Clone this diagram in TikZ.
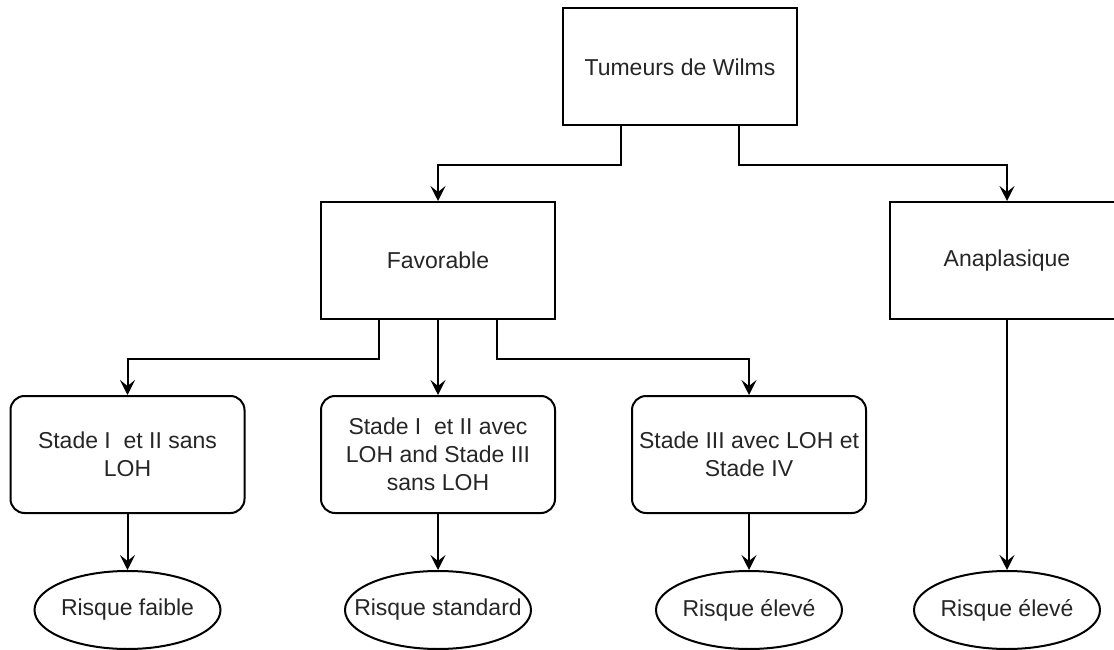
\documentclass[tikz,border=0pt]{standalone}
\usepackage{fontspec}
\setmainfont{Liberation Sans}
\usetikzlibrary{shapes.geometric,arrows.meta,calc}
\begin{document}
\begin{tikzpicture}[x=1pt,y=-1pt,
  every node/.style={font=\fontsize{23}{28}\selectfont, text=black!85, align=center, inner sep=0pt},
  sqbox/.style={draw, line width=2pt, fill=white, minimum width=234pt, minimum height=117pt},
  rbox/.style={sqbox, rounded corners=14pt},
  risk/.style={draw, ellipse, line width=2pt, fill=white, minimum width=186pt, minimum height=78pt},
  arr/.style={line width=2pt, -{Stealth[length=15pt,width=15pt,inset=6pt]}}
]
\fill[white] (0,0) rectangle (1114,650);
\useasboundingbox (0,0) rectangle (1114,650);

\node[sqbox] (top) at (680,67) {Tumeurs de Wilms};
\node[sqbox] (fav) at (438,260.5) {Favorable};
\node[sqbox] (ana) at (1007,260.5) {Anaplasique};

\node[rbox] (s1) at (127.5,454.5) {Stade I\ \ et II sans\\LOH};
\node[rbox] (s2) at (438,454.5) {Stade I\ \ et II avec\\LOH and Stade III\\sans LOH};
\node[rbox] (s3) at (749,454.5) {Stade III avec LOH et\\Stade IV};

\node[risk] (r1) at (127.5,610) {\makebox[0pt]{Risque faible}};
\node[risk] (r2) at (438,610) {\makebox[0pt]{Risque standard}};
\node[risk] (r3) at (749,610) {\makebox[0pt]{Risque élevé}};
\node[risk] (r4) at (1007,610) {\makebox[0pt]{Risque élevé}};

\coordinate (tl) at ($(top.south west)!0.25!(top.south east)$);
\coordinate (tr) at ($(top.south west)!0.75!(top.south east)$);
\coordinate (fl) at ($(fav.south west)!0.25!(fav.south east)$);
\coordinate (fr) at ($(fav.south west)!0.75!(fav.south east)$);

\draw[arr] (tl) -- ++(0,39) -| (fav.north);
\draw[arr] (tr) -- ++(0,39) -| (ana.north);
\draw[arr] (fl) -- ++(0,39) -| (s1.north);
\draw[arr] (fav.south) -- (s2.north);
\draw[arr] (fr) -- ++(0,39) -| (s3.north);

\draw[arr] (s1.south) -- (r1.north);
\draw[arr] (s2.south) -- (r2.north);
\draw[arr] (s3.south) -- (r3.north);
\draw[arr] (ana.south) -- (r4.north);
\end{tikzpicture}
\end{document}
